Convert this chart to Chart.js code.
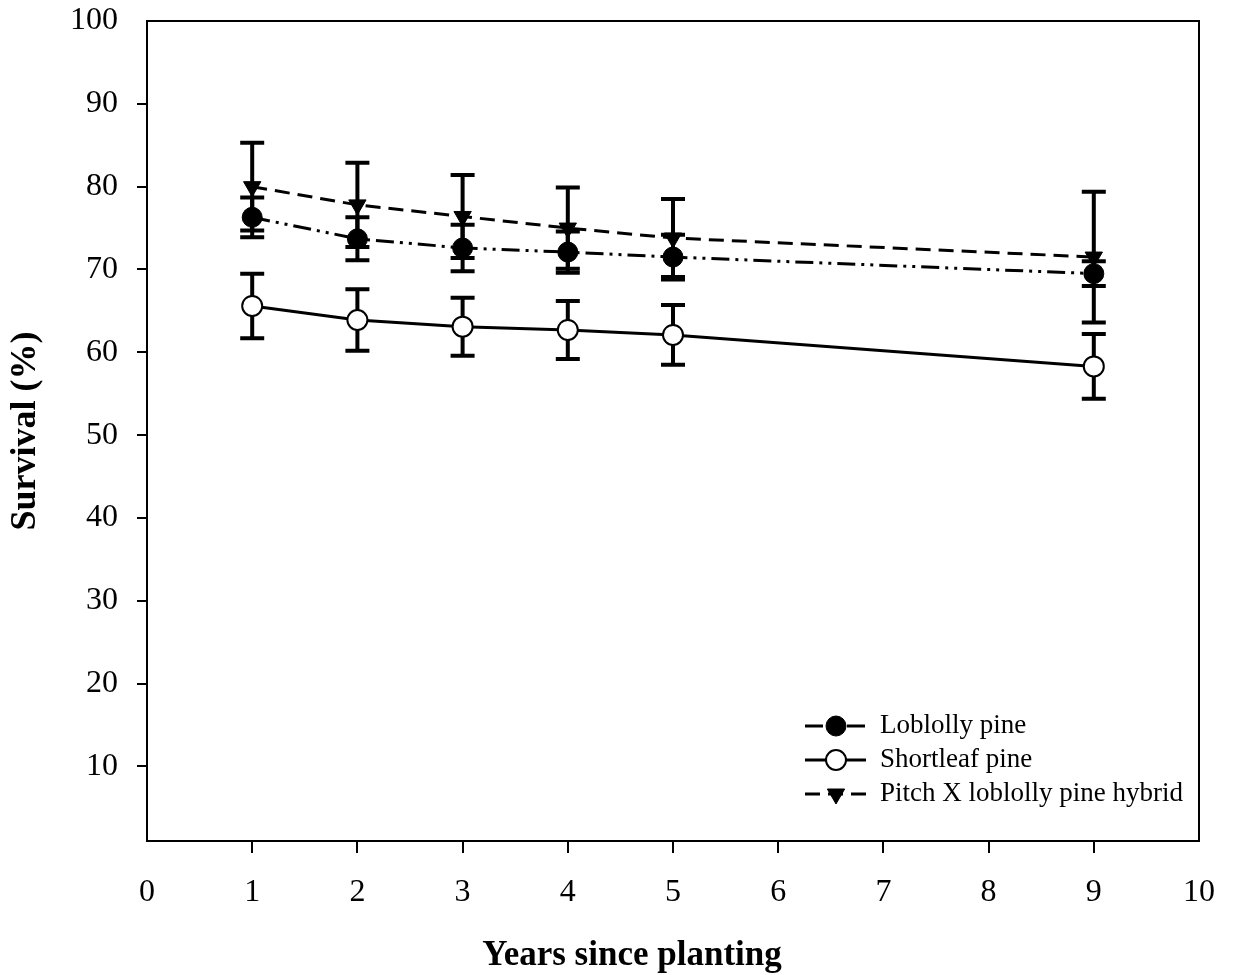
<!DOCTYPE html>
<html>
<head>
<meta charset="utf-8">
<script src="https://cdn.jsdelivr.net/npm/chart.js@4.4.1/dist/chart.umd.min.js"></script>
<style>
  body { margin: 0; background: #fff; }
  canvas { display: block; }
</style>
</head>
<body>
<canvas id="survival-chart" width="1233" height="975"></canvas>
<script>
// values
const years = [1, 2, 3, 4, 5, 9]
const loblolly = [76.3, 73.7, 72.6, 72.1, 71.5, 69.5]
const loblollyErr = [2.4, 2.6, 2.8, 2.5, 2.7, 1.5]
const shortleaf = [65.6, 63.9, 63.1, 62.7, 62.1, 58.3]
const shortleafErr = [3.9, 3.7, 3.5, 3.5, 3.6, 3.9]
const hybrid = [80.0, 77.8, 76.4, 75.0, 73.8, 71.5]
const hybridErr = [5.3, 5.1, 5.0, 4.9, 4.7, 7.9]
const yTicks = [10, 20, 30, 40, 50, 60, 70, 80, 90, 100]
const seriesNames = ['Loblolly pine', 'Shortleaf pine', 'Pitch X loblolly pine hybrid']

const serif = "'Liberation Serif', 'Times New Roman', serif"

function toPoints(ys) {
    return years.map((x, i) => ({ x: x, y: ys[i] }))
}

// error bars, drawn under the lines and symbols
const errorBars = {
    id: 'errorBars',
    beforeDatasetsDraw(chart) {
        const ctx = chart.ctx
        const xs = chart.scales.x
        const ys = chart.scales.y
        ctx.save()
        ctx.strokeStyle = '#000'
        ctx.lineWidth = 4
        ctx.lineCap = 'butt'
        chart.data.datasets.forEach(ds => {
            ds.data.forEach((p, i) => {
                const e = ds.errors[i]
                const px = xs.getPixelForValue(p.x)
                const top = ys.getPixelForValue(p.y + e)
                const bot = ys.getPixelForValue(p.y - e)
                ctx.beginPath()
                ctx.moveTo(px, top)
                ctx.lineTo(px, bot)
                ctx.moveTo(px - 12, top)
                ctx.lineTo(px + 12, top)
                ctx.moveTo(px - 12, bot)
                ctx.lineTo(px + 12, bot)
                ctx.stroke()
            })
        })
        ctx.restore()
    }
}

// frame, x title and the legend inside the plot
const decorations = {
    id: 'decorations',
    afterDraw(chart) {
        const ctx = chart.ctx
        const a = chart.chartArea
        ctx.save()
        ctx.strokeStyle = '#000'
        ctx.lineWidth = 2
        ctx.strokeRect(a.left, a.top, a.right - a.left, a.bottom - a.top)

        ctx.fillStyle = '#000'
        ctx.font = 'bold 35px ' + serif
        ctx.textAlign = 'center'
        ctx.textBaseline = 'middle'
        ctx.fillText('Years since planting', 632, 956)

        const rows = [726, 760, 794]
        chart.data.datasets.forEach((ds, i) => {
            const y = rows[i]
            ctx.save()
            ctx.lineWidth = 3
            ctx.setLineDash(ds.borderDash || [])
            ctx.beginPath()
            ctx.moveTo(805, y)
            ctx.lineTo(866, y)
            ctx.stroke()
            ctx.restore()
            ctx.save()
            ctx.fillStyle = ds.pointBackgroundColor
            ctx.strokeStyle = '#000'
            ctx.lineWidth = ds.pointBorderWidth
            Chart.helpers.drawPoint(ctx, {
                pointStyle: ds.pointStyle,
                rotation: ds.pointRotation || 0,
                radius: ds.pointRadius,
                borderWidth: ds.pointBorderWidth
            }, 836, y)
            ctx.restore()
            ctx.font = '27px ' + serif
            ctx.textAlign = 'left'
            ctx.textBaseline = 'middle'
            ctx.fillText(ds.label, 880, y)
        })
        ctx.restore()
    }
}

new Chart(document.getElementById('survival-chart').getContext('2d'), {
    type: 'line',
    data: {
        datasets: [{
            label: seriesNames[0],
            data: toPoints(loblolly),
            errors: loblollyErr,
            borderColor: '#000',
            borderWidth: 3,
            borderDash: [18, 6, 3, 6, 3, 6],
            pointStyle: 'circle',
            pointRadius: 10,
            pointBorderWidth: 1,
            pointBackgroundColor: '#000',
            pointBorderColor: '#000'
        }, {
            label: seriesNames[1],
            data: toPoints(shortleaf),
            errors: shortleafErr,
            borderColor: '#000',
            borderWidth: 3,
            pointStyle: 'circle',
            pointRadius: 10,
            pointBorderWidth: 2,
            pointBackgroundColor: '#fff',
            pointBorderColor: '#000'
        }, {
            label: seriesNames[2],
            data: toPoints(hybrid),
            errors: hybridErr,
            borderColor: '#000',
            borderWidth: 3,
            borderDash: [15, 8],
            pointStyle: 'triangle',
            pointRotation: 180,
            pointRadius: 10,
            pointBorderWidth: 1,
            pointBackgroundColor: '#000',
            pointBorderColor: '#000'
        }]
    },
    options: {
        responsive: false,
        animation: false,
        events: [],
        layout: { padding: { top: 21, right: 34, left: 0, bottom: 0 } },
        plugins: {
            legend: { display: false },
            tooltip: { enabled: false }
        },
        scales: {
            x: {
                type: 'linear',
                min: 0,
                max: 10,
                afterFit: s => {
                    s.height = 134
                    s.paddingLeft = 0
                    s.paddingRight = 0
                },
                ticks: {
                    stepSize: 1,
                    color: '#000',
                    padding: 20,
                    font: { family: serif, size: 32 }
                },
                grid: {
                    drawOnChartArea: false,
                    drawTicks: true,
                    tickLength: 12,
                    lineWidth: 2,
                    color: c => (c.tick && (c.tick.value === 0 || c.tick.value === 10)) ? 'rgba(0,0,0,0)' : '#000'
                },
                border: { display: true, color: '#000', width: 2 }
            },
            y: {
                type: 'linear',
                min: 1,
                max: 100,
                afterFit: s => {
                    s.width = 147
                    s.paddingTop = 0
                    s.paddingBottom = 0
                },
                afterBuildTicks: s => { s.ticks = yTicks.map(v => ({ value: v })) },
                ticks: {
                    color: '#000',
                    padding: 19,
                    font: { family: serif, size: 32 }
                },
                grid: {
                    drawOnChartArea: false,
                    drawTicks: true,
                    tickLength: 10,
                    lineWidth: 2,
                    color: c => (c.tick && c.tick.value === 100) ? 'rgba(0,0,0,0)' : '#000'
                },
                border: { display: true, color: '#000', width: 2 },
                title: {
                    display: true,
                    text: 'Survival (%)',
                    color: '#000',
                    padding: { top: 4, bottom: 0 },
                    font: { family: serif, size: 36, weight: 'bold' }
                }
            }
        }
    },
    plugins: [errorBars, decorations]
})
</script>
</body>
</html>
